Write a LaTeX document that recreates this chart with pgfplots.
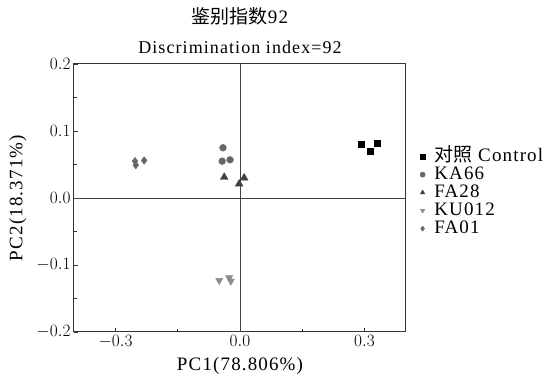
\documentclass[border=0pt]{standalone}
\usepackage{pgfplots}
\pgfplotsset{compat=1.18}
\usepackage{fontspec}
\setmainfont[LetterSpace=6]{Liberation Serif}
\newfontfamily\cjk{Noto Sans CJK SC}
\begin{document}
\begin{tikzpicture}
\useasboundingbox (-74pt,-47pt) rectangle (477pt,332pt);
\begin{axis}[
  name=ax,
  at={(0pt,0pt)}, anchor=south west,
  scale only axis,
  width=332pt, height=268pt,
  xmin=-0.4, xmax=0.4, ymin=-0.2, ymax=0.2,
  xtick={-0.3,0,0.3}, ytick={-0.2,-0.1,0,0.1,0.2},
  minor x tick num=1, minor y tick num=1,
  xtick pos=bottom, ytick pos=left,
  tick align=inside,
  major tick length=4pt, minor tick length=3pt,
  axis line style={line width=1pt, black!80},
  every tick/.style={black!80, line width=0.8pt},
  xticklabel style={/pgf/number format/.cd, fixed, fixed zerofill, precision=1},
  yticklabel style={/pgf/number format/.cd, fixed, fixed zerofill, precision=1},
  scaled ticks=false,
  tick label style={font=\fontsize{18}{20}\selectfont},
  label style={font=\fontsize{19}{21}\selectfont},
  xlabel={PC1(78.806\%)},
  ylabel={PC2(18.371\%)},
  xlabel style={at={(axis description cs:0.5,-0.127)}, anchor=center},
  ylabel style={at={(axis description cs:-0.169,0.5)}, anchor=center},
  legend style={at={(axis description cs:1.036,0.685)}, anchor=north west, draw=none, fill=none,
    font=\fontsize{19}{19}\selectfont, row sep=2pt, inner sep=0pt,
    nodes={inner sep=1pt, text height=12pt, text depth=2pt}},
  legend cell align=left,
  legend image code/.code={\path (0cm,0cm) (0.52cm,0cm); \draw[#1, mark size=2.6pt] plot coordinates {(0.15cm,0cm)};},
]
\addplot[forget plot, black!75, line width=0.8pt] coordinates {(0,-0.2) (0,0.2)};
\addplot[forget plot, black!75, line width=0.8pt] coordinates {(-0.4,0) (0.4,0)};
\addplot[only marks, mark=square*, mark size=3pt, black, mark options={fill=black}]
  coordinates {(0.292,0.081) (0.313,0.070) (0.330,0.082)};
\addlegendentry{{\cjk 对照}\ Control}
\addplot[only marks, mark=*, mark size=3.4pt, black!60, mark options={fill=black!60}]
  coordinates {(-0.041,0.075) (-0.043,0.055) (-0.024,0.057)};
\addlegendentry{KA66}
\addplot[only marks, mark=triangle*, mark size=4.5pt, black!75, mark options={fill=black!75}]
  coordinates {(-0.038,0.031) (0.010,0.030) (-0.002,0.021)};
\addlegendentry{FA28}
\addplot[only marks, mark=triangle*, mark size=4.2pt, black!45, mark options={fill=black!45, rotate=180}]
  coordinates {(-0.050,-0.123) (-0.026,-0.119) (-0.022,-0.124)};
\addlegendentry{KU012}
\addplot[only marks, mark=diamond*, mark size=3.8pt, black!60, mark options={fill=black!60}]
  coordinates {(-0.253,0.055) (-0.251,0.049) (-0.231,0.056)};
\addlegendentry{FA01}
\end{axis}
\node[font=\fontsize{18}{20}\selectfont, anchor=center] at ([yshift=17pt]ax.north) {Discrimination index=92};
\node[font=\fontsize{19}{21}\selectfont, anchor=center] at ([yshift=48pt]ax.north) {{\cjk 鉴别指数}92};
\end{tikzpicture}
\end{document}
